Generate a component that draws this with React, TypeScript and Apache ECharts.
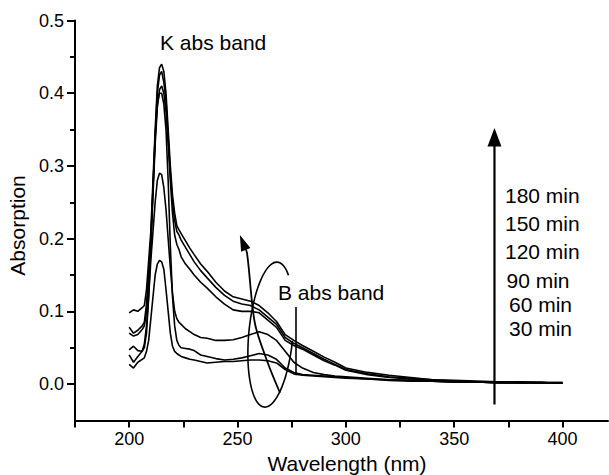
import React, { useEffect, useRef } from "react";
import * as echarts from "echarts";

// Wavelength grid (nm)
const wavelengths = [200, 202, 204, 206, 207, 208, 209, 210, 211, 212, 213, 214, 215, 216, 217, 218, 219, 220, 221, 222, 223, 224, 226, 228, 230, 233, 236, 240, 244, 248, 252, 256, 260, 264, 268, 272, 276, 280, 285, 290, 295, 300, 310, 320, 330, 340, 350, 360, 370, 380, 390, 400];

// Absorption values per irradiation time
const abs180 = [.098, .102, .100, .105, .108, .13, .17, .21, .28, .35, .41, .435, .44, .43, .40, .35, .30, .26, .235, .218, .212, .207, .197, .187, .178, .165, .155, .14, .128, .12, .117, .114, .108, .098, .086, .068, .06, .053, .045, .037, .03, .022, .016, .012, .009, .006, .005, .004, .003, .003, .002, .002];
const abs150 = [.078, .070, .074, .080, .085, .11, .15, .20, .27, .34, .40, .425, .43, .415, .39, .34, .29, .25, .225, .21, .205, .198, .188, .178, .168, .156, .146, .133, .122, .114, .110, .108, .102, .092, .082, .064, .056, .050, .042, .034, .027, .020, .014, .010, .008, .006, .004, .003, .003, .002, .002, .002];
const abs120 = [.070, .066, .068, .075, .080, .10, .14, .19, .26, .33, .38, .405, .41, .40, .375, .33, .28, .235, .205, .192, .185, .175, .165, .158, .150, .140, .132, .120, .110, .102, .100, .100, .098, .088, .078, .060, .053, .048, .040, .032, .026, .019, .013, .009, .007, .005, .004, .003, .002, .002, .002, .001];
const abs90 = [.047, .052, .046, .045, .055, .08, .12, .17, .21, .25, .28, .29, .288, .27, .24, .20, .16, .125, .10, .09, .085, .082, .076, .072, .068, .064, .063, .060, .060, .061, .064, .068, .072, .068, .060, .045, .030, .022, .016, .013, .011, .010, .008, .006, .005, .004, .003, .003, .002, .002, .002, .001];
const abs60 = [.040, .030, .038, .045, .050, .07, .12, .19, .27, .34, .385, .40, .40, .385, .35, .28, .19, .12, .08, .06, .053, .050, .049, .048, .046, .040, .038, .035, .033, .034, .036, .039, .042, .040, .034, .022, .016, .013, .012, .011, .010, .009, .007, .006, .005, .004, .003, .003, .002, .002, .002, .001];
const abs30 = [.027, .022, .030, .034, .036, .045, .06, .09, .12, .15, .165, .17, .168, .158, .13, .10, .07, .052, .045, .042, .040, .038, .036, .034, .033, .031, .029, .030, .031, .031, .032, .033, .033, .032, .029, .020, .014, .012, .011, .010, .009, .008, .007, .005, .004, .004, .003, .003, .002, .002, .002, .001];

const timeLabels = ["180 min", "150 min", "120 min", "90 min", "60 min", "30 min"];
const seriesValues = [abs180, abs150, abs120, abs90, abs60, abs30];

// Axis ticks / labels
const xTickValues = [175, 200, 225, 250, 275, 300, 325, 350, 375, 400];
const xLabelValues = [200, 250, 300, 350, 400];
const yLabelValues = [0, 0.1, 0.2, 0.3, 0.4, 0.5];
const yMinorValues = [0.05, 0.15, 0.25, 0.35, 0.45];

// Annotation anchors (data coordinates)
const trendArrowX = 368.6;
const trendArrowFrom = -0.028;
const trendArrowTo = 0.352;
const bArrowPath = [[269.6, -0.012], [264.0, 0.029], [258.0, 0.084], [254.4, 0.18], [251.1, 0.205]];
const bPointer = [[277.0, 0.106], [277.0, 0.012]];
const loopCenter = [265.4, 0.068];

const FONT = '"Liberation Sans", Arial, Helvetica, sans-serif';

export default function App() {
  const ref = useRef<HTMLDivElement>(null);

  useEffect(() => {
    document.body.style.margin = "0";
    const chart = echarts.init(ref.current!, null, { renderer: "svg" });

    const series = seriesValues.map((vals, i) => ({
      type: "line",
      name: timeLabels[i],
      data: wavelengths.map((w, j) => [w, vals[j]]),
      showSymbol: false,
      symbol: "none",
      silent: true,
      lineStyle: { color: "#000", width: 1.6 },
      itemStyle: { color: "#000" },
      z: 3,
    }));

    chart.setOption({
      animation: false,
      grid: { left: 75, right: 1, top: 20.5, bottom: 54.6, containLabel: false, outerBoundsMode: "none" },
      xAxis: {
        type: "value",
        min: 175,
        max: 421,
        name: "Wavelength (nm)",
        nameLocation: "middle",
        nameGap: 24,
        nameTextStyle: { color: "#000", fontSize: 21, fontFamily: FONT, padding: [0, 0, 0, 11] },
        axisLine: { show: true, onZero: false, lineStyle: { color: "#000", width: 2 } },
        axisTick: { show: true, inside: false, length: 7, lineStyle: { color: "#000", width: 2 }, customValues: xTickValues },
        axisLabel: { show: true, customValues: xLabelValues, margin: 10, color: "#000", fontSize: 18, fontFamily: FONT },
        splitLine: { show: false },
      },
      yAxis: [
        {
          type: "value",
          min: -0.05,
          max: 0.5,
          name: "Absorption",
          nameLocation: "middle",
          nameGap: 44,
          nameTextStyle: { color: "#000", fontSize: 21, fontFamily: FONT, padding: [0, 10, 0, 0] },
          axisLine: { show: true, onZero: false, lineStyle: { color: "#000", width: 2 } },
          axisTick: { show: true, inside: false, length: 8, lineStyle: { color: "#000", width: 2 }, customValues: yLabelValues },
          axisLabel: {
            show: true,
            customValues: yLabelValues,
            margin: 11,
            color: "#000",
            fontSize: 18,
            fontFamily: FONT,
            formatter: (v: number) => v.toFixed(1),
          },
          splitLine: { show: false },
        },
        {
          type: "value",
          min: -0.05,
          max: 0.5,
          position: "left",
          axisLine: { show: false, onZero: false },
          axisTick: { show: true, inside: false, length: 5, lineStyle: { color: "#000", width: 2 }, customValues: yMinorValues },
          axisLabel: { show: false },
          splitLine: { show: false },
        },
      ],
      series,
    });

    const toPx = (pt: number[]) => chart.convertToPixel({ xAxisIndex: 0, yAxisIndex: 0 }, pt) as number[];

    // Vertical trend arrow
    const tBase = toPx([trendArrowX, trendArrowFrom]);
    const tTip = toPx([trendArrowX, trendArrowTo]);

    // Curved B-band arrow
    const bPts = bArrowPath.map(toPx);
    const tip = bPts[bPts.length - 1];
    const prev = bPts[bPts.length - 2];
    let dx = tip[0] - prev[0];
    let dy = tip[1] - prev[1];
    const dl = Math.hypot(dx, dy);
    dx /= dl;
    dy /= dl;
    const headLen = 16;
    const headHalf = 5;
    const baseC = [tip[0] - dx * headLen, tip[1] - dy * headLen];
    const shaftEnd = [tip[0] - dx * 10, tip[1] - dy * 10];
    const headPts = [
      tip,
      [baseC[0] + -dy * headHalf, baseC[1] + dx * headHalf],
      [baseC[0] - -dy * headHalf, baseC[1] - dx * headHalf],
    ];

    // Loop around B band
    const lc = toPx(loopCenter);
    const loopPts: number[][] = [];
    for (let t = 55; t <= 355; t += 5) {
      const r = (t * Math.PI) / 180;
      loopPts.push([lc[0] + 22.2 * Math.cos(r) + 6 * Math.sin(r), lc[1] - 72.5 * Math.sin(r)]);
    }

    const p1 = toPx(bPointer[0]);
    const p2 = toPx(bPointer[1]);

    const textStyle = (text: string, x: number, y: number) => ({
      type: "text",
      x,
      y,
      silent: true,
      style: {
        text,
        fill: "#000",
        font: `21px ${FONT}`,
        textAlign: "left",
        textVerticalAlign: "middle",
        verticalAlign: "middle",
      },
    });

    const graphics: any[] = [
      {
        type: "line",
        silent: true,
        shape: { x1: tBase[0], y1: tBase[1], x2: tTip[0], y2: tTip[1] + 14 },
        style: { stroke: "#000", lineWidth: 2.2 },
      },
      {
        type: "polygon",
        silent: true,
        shape: { points: [[tTip[0], tTip[1]], [tTip[0] - 7, tTip[1] + 18.5], [tTip[0] + 7, tTip[1] + 18.5]] },
        style: { fill: "#000" },
      },
      {
        type: "polyline",
        silent: true,
        shape: { points: [...bPts.slice(0, -1), shaftEnd], smooth: 0.3 },
        style: { stroke: "#000", lineWidth: 1.8, fill: null },
      },
      {
        type: "polygon",
        silent: true,
        shape: { points: headPts },
        style: { fill: "#000" },
      },
      {
        type: "polyline",
        silent: true,
        shape: { points: loopPts, smooth: 0.2 },
        style: { stroke: "#000", lineWidth: 1.6, fill: null },
      },
      {
        type: "line",
        silent: true,
        shape: { x1: p1[0], y1: p1[1], x2: p2[0], y2: p2[1] },
        style: { stroke: "#000", lineWidth: 1.6 },
      },
      textStyle("K abs band", 160, 42),
      textStyle("B abs band", 278, 292),
      textStyle(timeLabels[0], 505, 195),
      textStyle(timeLabels[1], 505, 223.5),
      textStyle(timeLabels[2], 505, 251),
      textStyle(timeLabels[3], 506.5, 280),
      textStyle(timeLabels[4], 509, 304),
      textStyle(timeLabels[5], 509, 328),
    ];

    chart.setOption({ graphic: graphics });

    return () => {
      chart.dispose();
    };
  }, []);

  return <div ref={ref} style={{ width: 609, height: 475 }} />;
}
